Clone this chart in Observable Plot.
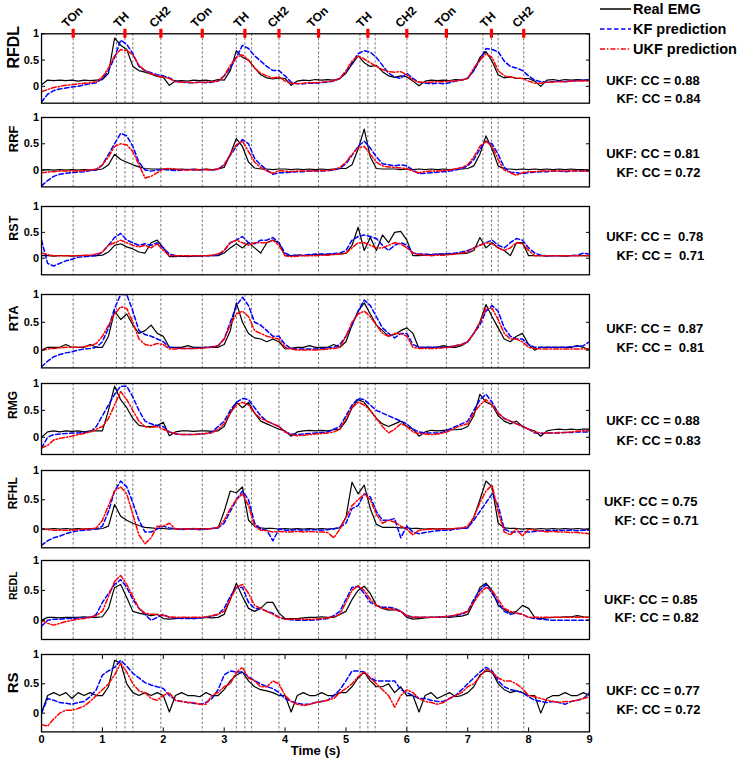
<!DOCTYPE html>
<html>
<head>
<meta charset="utf-8">
<script src="https://cdn.jsdelivr.net/npm/d3@7"></script>
<script src="https://cdn.jsdelivr.net/npm/@observablehq/plot@0.6"></script>
<style>
  body { margin: 0; background: #fff; }
  #chart { position: relative; width: 743px; height: 764px; background: #fff; overflow: hidden; }
  #chart > div { position: absolute; left: 0; }
  .cc text { white-space: pre; }
</style>
</head>
<body>
<div id="chart"></div>
<script>
// ---------------- data ----------------
const T = [0.0,0.1,0.2,0.3,0.4,0.5,0.6,0.7,0.8,0.9,
1.0,1.1,1.2,1.3,1.4,1.5,1.6,1.7,1.8,1.9,
2.0,2.1,2.2,2.3,2.4,2.5,2.6,2.7,2.8,2.9,
3.0,3.1,3.2,3.3,3.4,3.5,3.6,3.7,3.8,3.9,
4.0,4.1,4.2,4.3,4.4,4.5,4.6,4.7,4.8,4.9,
5.0,5.1,5.2,5.3,5.4,5.5,5.6,5.7,5.8,5.9,
6.0,6.1,6.2,6.3,6.4,6.5,6.6,6.7,6.8,6.9,
7.0,7.1,7.2,7.3,7.4,7.5,7.6,7.7,7.8,7.9,
8.0,8.1,8.2,8.3,8.4,8.5,8.6,8.7,8.8,8.9,
9.0];

const muscles = ["RFDL","RRF","RST","RTA","RMG","RFHL","REDL","RS"];
const ukfCC = ["UKF: CC = 0.88","UKF: CC = 0.81","UKF: CC =  0.78","UKF: CC =  0.87","UKF: CC = 0.88","UKF: CC = 0.75","UKF: CC = 0.85","UKF: CC = 0.77"];
const kfCC  = ["KF: CC = 0.84","KF: CC = 0.72","KF: CC =  0.71","KF: CC =  0.81","KF: CC = 0.83","KF: CC = 0.71","KF: CC = 0.82","KF: CC = 0.72"];

const eventTimes = [0.52,1.23,1.37,1.50,1.96,2.64,3.20,3.34,3.45,3.90,4.55,5.23,5.36,5.48,6.00,6.65,7.25,7.39,7.50,7.92];
const markerTimes = [0.52,1.37,1.96,2.64,3.34,3.90,4.55,5.36,6.00,6.65,7.39,7.92];
const markerNames = ["TOn","TH","CH2","TOn","TH","CH2","TOn","TH","CH2","TOn","TH","CH2"];

const yTicks = [0, 0.5, 1];
const xTicks = [0,1,2,3,4,5,6,7,8,9];
const seriesNames = ["Real EMG","KF prediction","UKF prediction"];

const rfdlReal = [0.03,0.12,0.11,0.12,0.11,0.12,0.10,0.12,0.11,0.12,
0.13,0.25,0.92,0.78,0.70,0.38,0.30,0.27,0.23,0.19,
0.17,0.02,0.10,0.11,0.10,0.12,0.11,0.12,0.10,0.13,
0.12,0.30,0.68,0.55,0.50,0.35,0.22,0.16,0.14,0.16,
0.15,0.02,0.10,0.12,0.11,0.13,0.12,0.13,0.12,0.15,
0.25,0.42,0.58,0.45,0.38,0.40,0.28,0.20,0.17,0.20,
0.18,0.10,0.01,0.10,0.12,0.11,0.12,0.11,0.13,0.12,
0.15,0.30,0.55,0.66,0.48,0.22,0.16,0.18,0.15,0.15,
0.15,0.10,0.00,0.12,0.13,0.11,0.13,0.12,0.13,0.12,
0.12];
const rfdlKF = [-0.30,-0.15,-0.08,-0.05,-0.03,-0.01,0.00,0.03,0.05,0.07,
0.15,0.30,0.55,0.88,0.80,0.62,0.38,0.30,0.26,0.22,
0.20,0.16,0.10,0.08,0.07,0.07,0.08,0.07,0.08,0.10,
0.20,0.35,0.55,0.78,0.72,0.58,0.48,0.38,0.30,0.30,
0.20,0.08,0.05,0.05,0.06,0.06,0.07,0.08,0.10,0.15,
0.28,0.45,0.62,0.68,0.65,0.55,0.40,0.25,0.18,0.15,
0.25,0.15,0.08,0.06,0.05,0.06,0.05,0.07,0.10,0.12,
0.16,0.30,0.50,0.72,0.70,0.66,0.48,0.38,0.35,0.30,
0.20,0.12,0.09,0.08,0.09,0.10,0.09,0.10,0.11,0.12,
0.12];
const rfdlUKF = [-0.10,-0.06,-0.02,0.00,0.02,0.03,0.05,0.06,0.07,0.09,
0.18,0.35,0.58,0.70,0.68,0.60,0.40,0.30,0.24,0.20,
0.18,0.15,0.09,0.08,0.08,0.07,0.08,0.08,0.09,0.10,
0.20,0.40,0.55,0.60,0.50,0.35,0.25,0.20,0.16,0.18,
0.10,0.06,0.05,0.06,0.07,0.07,0.08,0.09,0.11,0.15,
0.30,0.48,0.58,0.52,0.45,0.38,0.32,0.28,0.27,0.28,
0.22,0.12,0.08,0.08,0.08,0.09,0.09,0.10,0.10,0.12,
0.15,0.35,0.50,0.62,0.55,0.30,0.20,0.18,0.16,0.15,
0.10,0.06,0.06,0.08,0.08,0.09,0.09,0.10,0.10,0.10,
0.10];

const rrfReal = [0.00,0.01,0.00,0.01,0.00,0.01,0.00,0.01,0.00,0.01,
0.02,0.10,0.30,0.20,0.15,0.10,0.06,0.03,0.02,0.02,
0.02,0.02,0.01,0.02,0.01,0.02,0.01,0.02,0.01,0.02,
0.05,0.30,0.60,0.45,0.15,0.04,0.02,0.02,0.01,0.02,
0.02,0.01,0.02,0.01,0.02,0.01,0.02,0.01,0.02,0.03,
0.03,0.10,0.40,0.78,0.25,0.03,0.02,0.02,0.02,0.01,
0.02,0.01,0.02,0.01,0.02,0.01,0.02,0.01,0.02,0.02,
0.03,0.08,0.30,0.65,0.40,0.08,0.02,0.02,0.01,0.02,
0.01,0.02,0.01,0.02,0.01,0.02,0.01,0.02,0.01,0.01,
0.00];
const rrfKF = [-0.30,-0.20,-0.12,-0.08,-0.06,-0.05,-0.04,-0.03,-0.01,0.00,
0.10,0.30,0.50,0.70,0.65,0.45,0.15,0.00,-0.02,0.00,
0.01,0.00,-0.01,0.00,0.01,0.00,0.00,0.01,0.00,0.02,
0.10,0.28,0.45,0.58,0.50,0.22,0.10,0.00,-0.08,-0.05,
-0.05,-0.04,-0.03,-0.03,-0.02,-0.02,-0.02,-0.01,0.00,0.03,
0.12,0.28,0.45,0.55,0.42,0.25,0.12,0.10,0.08,0.10,
0.08,0.00,-0.07,-0.06,-0.05,-0.04,-0.03,-0.02,0.00,0.03,
0.08,0.20,0.40,0.55,0.50,0.30,0.05,-0.04,-0.05,-0.07,
-0.05,-0.04,-0.03,-0.03,-0.02,-0.02,-0.03,-0.02,-0.02,-0.02,
-0.02];
const rrfUKF = [-0.05,-0.04,-0.03,-0.02,-0.02,-0.02,-0.02,-0.01,0.00,0.02,
0.10,0.25,0.45,0.50,0.48,0.35,0.10,-0.15,-0.12,-0.05,
0.02,0.03,0.02,0.00,0.00,0.01,0.00,0.01,0.00,0.02,
0.10,0.30,0.48,0.55,0.35,0.15,0.05,-0.02,-0.06,-0.01,
-0.02,-0.03,-0.02,-0.02,-0.01,-0.02,-0.01,-0.01,0.01,0.05,
0.15,0.30,0.42,0.45,0.30,0.15,0.08,0.06,0.05,0.04,
0.03,-0.02,-0.05,-0.03,-0.02,-0.02,-0.01,0.00,0.02,0.05,
0.10,0.25,0.45,0.55,0.45,0.20,0.00,-0.05,-0.10,-0.05,
-0.03,-0.03,-0.02,-0.02,-0.01,-0.02,-0.02,-0.01,-0.02,-0.02,
-0.02];

const rstReal = [0.05,0.05,0.04,0.05,0.05,0.04,0.05,0.05,0.05,0.05,
0.06,0.12,0.25,0.28,0.22,0.18,0.12,0.10,0.30,0.35,
0.20,0.03,0.03,0.04,0.03,0.04,0.04,0.05,0.05,0.05,
0.10,0.20,0.28,0.20,0.30,0.20,0.10,0.30,0.35,0.30,
0.05,0.05,0.06,0.05,0.06,0.07,0.07,0.07,0.08,0.08,
0.10,0.25,0.60,0.15,0.40,0.15,0.45,0.30,0.50,0.52,
0.35,0.05,0.05,0.06,0.07,0.08,0.08,0.08,0.09,0.09,
0.10,0.15,0.40,0.20,0.30,0.20,0.15,0.05,0.30,0.30,
0.05,0.05,0.05,0.04,0.05,0.05,0.04,0.05,0.05,0.05,
0.05];
const rstKF = [0.35,-0.10,-0.15,-0.10,-0.05,-0.02,0.02,0.03,0.04,0.05,
0.12,0.25,0.40,0.48,0.35,0.30,0.25,0.28,0.25,0.30,
0.20,0.08,0.05,0.05,0.05,0.05,0.05,0.05,0.05,0.06,
0.15,0.30,0.35,0.42,0.30,0.28,0.35,0.35,0.40,0.30,
0.10,0.05,0.06,0.06,0.07,0.08,0.08,0.08,0.09,0.10,
0.15,0.35,0.42,0.45,0.42,0.38,0.25,0.15,0.25,0.30,
0.25,0.10,0.08,0.08,0.07,0.08,0.08,0.09,0.10,0.12,
0.15,0.20,0.25,0.30,0.35,0.25,0.20,0.30,0.38,0.35,
0.20,0.10,0.06,0.05,0.05,0.05,0.05,0.05,0.06,0.10,
0.08];
const rstUKF = [0.10,0.07,0.05,0.05,0.05,0.05,0.05,0.06,0.06,0.08,
0.12,0.25,0.30,0.35,0.30,0.25,0.22,0.25,0.20,0.28,
0.15,0.05,0.05,0.05,0.05,0.05,0.05,0.05,0.06,0.08,
0.15,0.30,0.35,0.30,0.25,0.30,0.30,0.30,0.35,0.25,
0.05,0.03,0.04,0.05,0.05,0.05,0.06,0.06,0.07,0.08,
0.10,0.20,0.30,0.30,0.25,0.20,0.20,0.25,0.30,0.28,
0.20,0.10,0.07,0.06,0.05,0.06,0.06,0.07,0.08,0.10,
0.12,0.20,0.25,0.30,0.28,0.20,0.15,0.20,0.30,0.28,
0.15,0.05,0.05,0.05,0.05,0.05,0.05,0.05,0.05,0.05,
0.05];

const rtaReal = [0.00,0.05,0.05,0.05,0.10,0.05,0.05,0.05,0.10,0.05,
0.05,0.25,0.70,0.55,0.65,0.45,0.30,0.35,0.45,0.30,
0.25,0.05,0.05,0.05,0.08,0.05,0.05,0.05,0.05,0.05,
0.10,0.35,0.85,0.50,0.30,0.22,0.20,0.15,0.20,0.15,
0.02,0.03,0.05,0.05,0.08,0.05,0.05,0.05,0.10,0.05,
0.15,0.45,0.70,0.85,0.65,0.45,0.35,0.25,0.28,0.35,
0.40,0.30,0.03,0.05,0.05,0.05,0.08,0.05,0.05,0.08,
0.15,0.30,0.50,0.82,0.60,0.40,0.20,0.15,0.25,0.30,
0.10,0.00,0.05,0.05,0.05,0.05,0.05,0.05,0.08,0.05,
0.00];
const rtaKF = [-0.30,-0.20,-0.12,-0.08,-0.05,-0.03,0.00,0.02,0.03,0.05,
0.15,0.40,0.75,1.00,1.00,0.70,0.35,0.28,0.25,0.20,
0.15,0.05,0.04,0.03,0.03,0.03,0.04,0.05,0.06,0.08,
0.20,0.50,0.80,0.95,0.80,0.50,0.45,0.35,0.25,0.25,
0.10,0.03,0.02,0.02,0.02,0.02,0.03,0.04,0.05,0.10,
0.25,0.45,0.70,0.90,0.80,0.60,0.40,0.30,0.22,0.30,
0.30,0.10,0.05,0.05,0.05,0.05,0.05,0.06,0.08,0.10,
0.15,0.30,0.45,0.70,0.80,0.70,0.40,0.25,0.20,0.20,
0.10,0.05,0.05,0.05,0.05,0.05,0.05,0.06,0.07,0.08,
0.15];
const rtaUKF = [0.00,0.02,0.03,0.04,0.05,0.05,0.05,0.06,0.08,0.12,
0.25,0.45,0.65,0.78,0.75,0.50,0.20,0.10,0.08,0.12,
0.10,0.02,0.02,0.03,0.03,0.03,0.03,0.04,0.05,0.08,
0.20,0.45,0.65,0.70,0.60,0.35,0.30,0.25,0.22,0.20,
0.05,0.02,0.00,0.00,0.00,0.00,0.01,0.02,0.03,0.05,
0.25,0.50,0.65,0.70,0.60,0.45,0.30,0.25,0.30,0.30,
0.25,0.05,0.03,0.03,0.03,0.03,0.04,0.05,0.08,0.10,
0.15,0.30,0.50,0.75,0.75,0.55,0.30,0.20,0.20,0.15,
0.05,0.03,0.02,0.02,0.02,0.02,0.02,0.02,0.02,0.02,
0.02];

const rmgReal = [0.00,0.10,0.12,0.10,0.12,0.11,0.12,0.10,0.12,0.12,
0.12,0.50,0.95,0.70,0.55,0.35,0.22,0.20,0.20,0.22,
0.28,0.03,0.10,0.12,0.12,0.11,0.12,0.12,0.11,0.12,
0.20,0.45,0.65,0.55,0.65,0.45,0.30,0.25,0.20,0.15,
0.12,0.02,0.10,0.12,0.13,0.12,0.13,0.12,0.14,0.15,
0.30,0.55,0.70,0.65,0.50,0.35,0.25,0.20,0.25,0.30,
0.20,0.15,0.02,0.10,0.13,0.12,0.13,0.14,0.14,0.15,
0.20,0.40,0.80,0.65,0.60,0.40,0.30,0.25,0.30,0.20,
0.15,0.12,0.02,0.12,0.14,0.15,0.14,0.15,0.14,0.15,
0.15];
const rmgKF = [-0.20,0.00,0.05,0.06,0.07,0.08,0.08,0.09,0.10,0.20,
0.40,0.60,0.80,0.95,0.95,0.75,0.50,0.30,0.25,0.22,
0.20,0.10,0.06,0.05,0.05,0.05,0.06,0.07,0.10,0.20,
0.30,0.50,0.65,0.72,0.70,0.55,0.40,0.30,0.25,0.20,
0.10,0.06,0.05,0.06,0.07,0.08,0.09,0.10,0.15,0.20,
0.40,0.60,0.72,0.70,0.60,0.50,0.45,0.40,0.35,0.30,
0.25,0.15,0.10,0.08,0.08,0.08,0.10,0.15,0.20,0.25,
0.30,0.50,0.70,0.80,0.65,0.45,0.35,0.30,0.25,0.20,
0.15,0.08,0.07,0.08,0.08,0.08,0.09,0.09,0.10,0.10,
0.10];
const rmgUKF = [-0.20,-0.15,-0.05,-0.02,0.00,0.02,0.05,0.07,0.10,0.15,
0.20,0.35,0.60,0.85,0.70,0.50,0.30,0.20,0.18,0.20,
0.15,0.10,0.07,0.05,0.05,0.05,0.06,0.07,0.08,0.15,
0.25,0.45,0.60,0.65,0.60,0.45,0.35,0.30,0.25,0.20,
0.10,0.05,0.03,0.04,0.05,0.06,0.07,0.08,0.10,0.15,
0.35,0.55,0.65,0.60,0.50,0.35,0.20,0.08,0.15,0.25,
0.20,0.10,0.07,0.06,0.05,0.06,0.08,0.12,0.18,0.22,
0.25,0.45,0.60,0.70,0.60,0.45,0.35,0.30,0.25,0.20,
0.15,0.10,0.08,0.08,0.08,0.09,0.09,0.10,0.11,0.12,
0.12];

const rfhlReal = [0.00,0.00,0.01,0.00,0.01,0.00,0.01,0.00,0.01,0.00,
0.01,0.05,0.42,0.22,0.15,0.10,0.06,0.03,0.02,0.01,
0.01,0.00,0.01,0.00,0.01,0.00,0.01,0.00,0.01,0.02,
0.30,0.65,0.62,0.72,0.15,0.05,0.02,0.01,0.01,0.00,
0.01,0.00,0.01,0.00,0.01,0.00,0.01,0.00,0.01,0.02,
0.20,0.80,0.60,0.75,0.35,0.08,0.03,0.03,0.03,0.02,
0.02,0.01,0.01,0.00,0.01,0.00,0.01,0.00,0.01,0.01,
0.02,0.20,0.50,0.82,0.72,0.10,0.02,0.01,0.01,0.00,
0.01,0.00,0.01,0.00,0.01,0.00,0.01,0.00,0.01,0.00,
0.00];
const rfhlKF = [-0.28,-0.20,-0.15,-0.12,-0.08,-0.05,-0.03,-0.02,-0.01,0.00,
0.05,0.30,0.65,0.82,0.72,0.45,0.15,-0.05,-0.05,0.00,
0.05,0.02,0.00,-0.01,0.00,0.00,-0.01,0.00,0.01,0.02,
0.10,0.30,0.50,0.65,0.50,0.10,0.00,-0.02,-0.20,0.00,
-0.02,-0.02,-0.01,-0.02,-0.01,-0.01,-0.02,-0.01,0.00,0.03,
0.10,0.35,0.40,0.60,0.55,0.30,0.15,0.15,0.18,-0.15,
0.05,-0.05,-0.08,-0.06,-0.04,-0.03,-0.02,-0.02,0.00,0.01,
0.02,0.15,0.30,0.45,0.60,0.40,0.00,-0.05,-0.05,-0.04,
-0.05,-0.04,-0.03,-0.03,-0.02,-0.03,-0.02,-0.02,-0.03,-0.02,
-0.02];
const rfhlUKF = [0.00,-0.01,-0.02,-0.02,-0.02,-0.02,-0.01,0.00,0.00,0.02,
0.15,0.40,0.65,0.72,0.60,0.25,-0.10,-0.25,-0.15,0.05,
0.05,0.10,0.00,0.00,0.00,0.01,0.00,0.00,0.01,0.03,
0.15,0.35,0.50,0.60,0.40,0.05,-0.02,-0.03,-0.05,-0.04,
-0.05,-0.05,-0.04,-0.05,-0.04,-0.05,-0.05,-0.06,-0.15,0.00,
0.20,0.40,0.50,0.60,0.50,0.25,0.10,0.15,0.12,0.05,
0.00,-0.10,-0.02,-0.01,0.00,0.00,0.00,0.00,0.01,0.02,
0.05,0.20,0.45,0.65,0.75,0.30,-0.05,-0.10,0.00,-0.12,
0.00,-0.02,-0.03,-0.05,-0.04,-0.05,-0.05,-0.06,-0.06,-0.07,
-0.08];

const redlReal = [0.00,0.05,0.05,0.04,0.05,0.05,0.05,0.06,0.05,0.05,
0.06,0.20,0.55,0.60,0.38,0.15,0.12,0.10,0.08,0.10,
0.03,0.02,0.03,0.04,0.04,0.03,0.04,0.05,0.04,0.05,
0.10,0.35,0.62,0.40,0.20,0.15,0.20,0.30,0.30,0.12,
0.03,0.03,0.03,0.04,0.05,0.05,0.06,0.05,0.05,0.10,
0.15,0.35,0.50,0.57,0.45,0.25,0.20,0.17,0.18,0.15,
0.05,0.02,0.03,0.04,0.05,0.05,0.06,0.05,0.06,0.07,
0.10,0.30,0.55,0.62,0.50,0.25,0.18,0.12,0.15,0.25,
0.20,0.05,0.03,0.04,0.05,0.05,0.06,0.06,0.08,0.06,
0.05];
const redlKF = [-0.10,0.00,0.02,0.02,0.03,0.03,0.04,0.04,0.05,0.10,
0.30,0.45,0.60,0.68,0.55,0.35,0.20,0.10,0.00,0.05,
0.10,0.05,0.04,0.03,0.03,0.03,0.04,0.05,0.07,0.10,
0.20,0.40,0.55,0.55,0.30,0.20,0.20,0.15,0.12,0.05,
0.02,0.01,0.00,0.00,0.00,0.01,0.02,0.03,0.08,0.15,
0.35,0.55,0.57,0.45,0.30,0.25,0.22,0.22,0.20,0.15,
0.08,0.05,0.05,0.05,0.05,0.05,0.06,0.07,0.08,0.10,
0.15,0.35,0.50,0.60,0.45,0.30,0.15,0.10,0.12,0.10,
0.05,0.03,0.02,0.01,0.00,0.00,0.00,0.00,0.00,0.00,
0.00];
const redlUKF = [0.00,-0.05,-0.08,-0.05,-0.02,0.00,0.02,0.03,0.05,0.08,
0.15,0.40,0.65,0.75,0.60,0.40,0.20,0.12,0.10,0.10,
0.08,0.06,0.05,0.05,0.05,0.05,0.05,0.06,0.08,0.10,
0.15,0.35,0.55,0.60,0.45,0.25,0.20,0.15,0.10,0.05,
0.02,0.02,0.02,0.02,0.02,0.02,0.03,0.04,0.06,0.10,
0.30,0.50,0.58,0.50,0.35,0.25,0.20,0.20,0.18,0.15,
0.08,0.05,0.05,0.05,0.05,0.05,0.06,0.07,0.09,0.12,
0.15,0.30,0.45,0.55,0.50,0.35,0.20,0.15,0.12,0.10,
0.05,0.05,0.05,0.05,0.05,0.05,0.05,0.05,0.05,0.05,
0.05];

const rsReal = [0.00,0.30,0.35,0.30,0.35,0.25,0.35,0.30,0.35,0.30,
0.30,0.45,0.90,0.85,0.50,0.35,0.30,0.35,0.30,0.35,
0.30,0.02,0.30,0.35,0.30,0.30,0.28,0.35,0.30,0.30,
0.40,0.55,0.65,0.70,0.55,0.45,0.40,0.38,0.35,0.30,
0.30,0.02,0.30,0.35,0.30,0.30,0.35,0.30,0.30,0.35,
0.35,0.45,0.60,0.70,0.55,0.45,0.45,0.50,0.35,0.45,
0.30,0.30,0.02,0.30,0.35,0.25,0.30,0.35,0.28,0.30,
0.35,0.45,0.65,0.72,0.70,0.50,0.40,0.35,0.38,0.35,
0.30,0.30,0.00,0.25,0.30,0.30,0.35,0.30,0.30,0.35,
0.30];
const rsKF = [0.00,0.25,0.22,0.18,0.17,0.15,0.18,0.20,0.28,0.40,
0.65,0.72,0.78,0.90,0.80,0.68,0.60,0.52,0.48,0.45,
0.42,0.30,0.22,0.20,0.18,0.17,0.15,0.18,0.25,0.40,
0.65,0.72,0.70,0.70,0.62,0.55,0.50,0.45,0.42,0.35,
0.25,0.20,0.17,0.15,0.15,0.18,0.20,0.22,0.30,0.40,
0.55,0.72,0.72,0.70,0.60,0.55,0.55,0.55,0.55,0.40,
0.35,0.30,0.25,0.25,0.22,0.20,0.20,0.25,0.30,0.40,
0.50,0.60,0.70,0.78,0.72,0.55,0.45,0.40,0.38,0.35,
0.28,0.22,0.20,0.18,0.20,0.18,0.15,0.20,0.22,0.25,
0.35];
const rsUKF = [-0.20,-0.22,-0.10,0.00,0.05,0.05,0.08,0.12,0.20,0.30,
0.40,0.50,0.65,0.85,0.70,0.50,0.38,0.35,0.25,0.22,
0.30,0.35,0.22,0.20,0.18,0.18,0.15,0.15,0.30,0.35,
0.45,0.50,0.70,0.78,0.60,0.55,0.45,0.45,0.55,0.50,
0.30,0.20,0.15,0.13,0.15,0.18,0.20,0.22,0.25,0.35,
0.42,0.50,0.62,0.70,0.60,0.50,0.40,0.30,0.10,0.30,
0.40,0.35,0.25,0.20,0.18,0.15,0.18,0.25,0.30,0.35,
0.45,0.50,0.62,0.75,0.70,0.60,0.55,0.55,0.50,0.42,
0.30,0.28,0.25,0.22,0.20,0.18,0.20,0.20,0.22,0.25,
0.28];

const realSeries = [rfdlReal, rrfReal, rstReal, rtaReal, rmgReal, rfhlReal, redlReal, rsReal];
const kfSeries   = [rfdlKF, rrfKF, rstKF, rtaKF, rmgKF, rfhlKF, redlKF, rsKF];
const ukfSeries  = [rfdlUKF, rrfUKF, rstUKF, rtaUKF, rmgUKF, rfhlUKF, redlUKF, rsUKF];

// ---------------- layout ----------------
const W = 743;
const frameLeft = 41, frameRight = 589;
const panelTop    = [33.3, 117.3, 206, 294.3, 383.3, 470, 560, 654.3];
const panelBottom = [102.7, 186.7, 274.3, 367.7, 454.3, 547.3, 639, 731.7];
const labelSize = [16, 13, 12.5, 13, 12, 12, 10.5, 15];
const ukfDy = [41.7, 31, 25.7, 29.7, 32.7, 26, 34, 31.4];
const kfDy  = [59.7, 50, 44.7, 48.4, 52.7, 45, 52.7, 50];
const ukfDx = [16.7, 16.7, 16.7, 16.7, 16.7, 14.5, 14.5, 16.7];
const kfDx  = [27, 27, 27, 27, 27, 25, 25, 27];
const FONT = "'Liberation Sans', Arial, sans-serif";
const KF_DASH = "4.5,2.5", UKF_DASH = "5,2,1.4,2";

const chart = document.getElementById("chart");

muscles.forEach((name, p) => {
  const first = p === 0, last = p === muscles.length - 1;
  const h = panelBottom[p] - panelTop[p];
  const mt = first ? 33.3 : 3;
  const mb = last ? 33 : 3;
  const rows = T.map((t, i) => ({t, real: realSeries[p][i], kf: kfSeries[p][i], ukf: ukfSeries[p][i]}));

  const marks = [
    Plot.ruleX(eventTimes, {stroke: "#555", strokeWidth: 0.8, strokeDasharray: "2.5,2"}),
    Plot.line(rows, {x: "t", y: "real", stroke: "#000", strokeWidth: 1.2, clip: true}),
    Plot.line(rows, {x: "t", y: "kf", stroke: "#0000ff", strokeWidth: 1.5, strokeDasharray: KF_DASH, clip: true}),
    Plot.line(rows, {x: "t", y: "ukf", stroke: "#ff0000", strokeWidth: 1.5, strokeDasharray: UKF_DASH, clip: true}),
    Plot.frame({stroke: "#000", strokeWidth: 1.3}),
    Plot.axisY({anchor: "left", label: null, ticks: yTicks, tickSize: -4, tickPadding: 6.5, tickFormat: d => String(d),
      fontSize: 11, fontWeight: "bold", fill: "#000", stroke: "#000", strokeWidth: 1}),
    Plot.axisY({anchor: "right", label: null, ticks: yTicks, tickSize: -4, tickFormat: () => "", stroke: "#000", strokeWidth: 1}),
    Plot.text([name], {text: d => d, frameAnchor: "left", dx: -(frameLeft - 13), rotate: -90,
      fontSize: labelSize[p], fontWeight: "bold", fill: "#000"}),
    Plot.text([ukfCC[p]], {text: d => d, frameAnchor: "top-right", dx: ukfDx[p], dy: ukfDy[p], textAnchor: "start",
      fontSize: 13, fontWeight: "bold", fill: "#000", className: "cc"}),
    Plot.text([kfCC[p]], {text: d => d, frameAnchor: "top-right", dx: kfDx[p], dy: kfDy[p], textAnchor: "start",
      fontSize: 13, fontWeight: "bold", fill: "#000", className: "cc"})
  ];
  if (first) {
    marks.push(
      Plot.ruleX(markerTimes, {stroke: "#ff0000", strokeWidth: 3.2, insetTop: -4.5, insetBottom: h - 4.5}),
      Plot.text(markerTimes, {x: d => d, text: (d, i) => markerNames[i], frameAnchor: "top", dx: -6.5, dy: -5.5,
        rotate: -45, textAnchor: "start", lineAnchor: "bottom", fontSize: 12, fontWeight: "bold", fill: "#000"})
    );
  }
  if (last) {
    marks.push(
      Plot.axisX({anchor: "bottom", label: null, ticks: xTicks, tickSize: -4, tickPadding: 7, tickFormat: d => String(d),
        fontSize: 11, fontWeight: "bold", fill: "#000", stroke: "#000", strokeWidth: 1}),
      Plot.axisX({anchor: "top", label: null, ticks: xTicks, tickSize: -4, tickFormat: () => "", stroke: "#000", strokeWidth: 1}),
      Plot.text(["Time (s)"], {text: d => d, frameAnchor: "bottom", dy: 23.5, fontSize: 13, fontWeight: "bold", fill: "#000"})
    );
  }

  const svg = Plot.plot({
    width: W,
    height: mt + h + mb,
    marginTop: mt, marginBottom: mb,
    marginLeft: frameLeft, marginRight: W - frameRight,
    x: {domain: [0, 9], axis: null},
    y: {domain: [-0.32, 1], axis: null},
    style: {fontFamily: FONT, background: "transparent", overflow: "visible", color: "#000"},
    marks
  });
  const wrap = document.createElement("div");
  wrap.style.top = (panelTop[p] - mt) + "px";
  wrap.appendChild(svg);
  chart.appendChild(wrap);
});

// legend (top right)
const overlay = d3.create("svg").attr("width", W).attr("height", 60)
  .style("position", "absolute").style("left", "0px").style("top", "0px").style("overflow", "visible");
const legendStyles = [
  {stroke: "#000", dash: null},
  {stroke: "#0000ff", dash: KF_DASH},
  {stroke: "#ff0000", dash: UKF_DASH}
];
seriesNames.forEach((s, i) => {
  const y = 9 + i * 20;
  overlay.append("line").attr("x1", 600).attr("x2", 631).attr("y1", y).attr("y2", y)
    .attr("stroke", legendStyles[i].stroke).attr("stroke-width", 1.5)
    .attr("stroke-dasharray", legendStyles[i].dash);
  overlay.append("text").attr("x", 633).attr("y", y).attr("dy", "0.36em")
    .attr("font-family", FONT).attr("font-weight", "bold").attr("font-size", 14.5).attr("fill", "#000")
    .text(s);
});
chart.appendChild(overlay.node());
</script>
</body>
</html>
